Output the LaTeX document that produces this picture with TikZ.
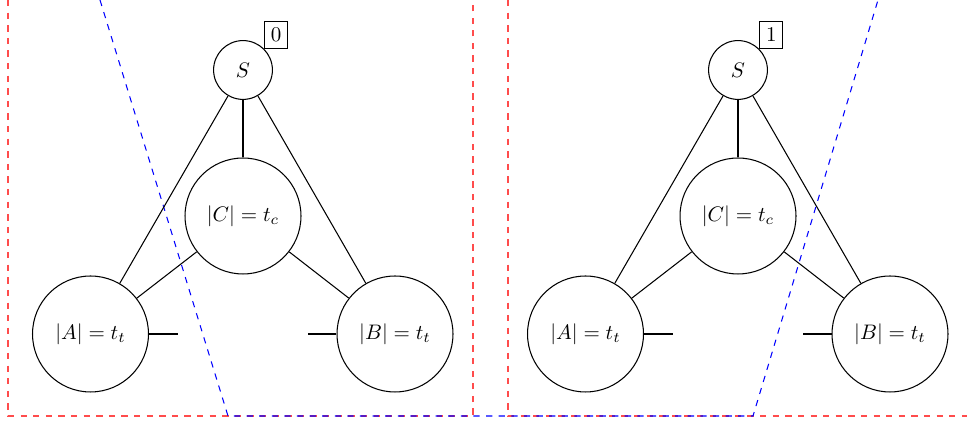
\documentclass[tikz,border=0pt]{standalone}
\begin{document}
\begin{tikzpicture}[x=0.476pt,y=-0.476pt,line width=0.5pt,
  big/.style={circle,draw,minimum size=55.2pt,inner sep=0pt},
  small/.style={circle,draw,minimum size=28pt,inner sep=0pt},
  tag/.style={draw,inner sep=3pt,anchor=south west},
  edge/.style={draw,black},
  redbox/.style={draw=red,draw opacity=0.7,dashed},
  blueline/.style={draw=blue,dashed}]
\useasboundingbox (0,0) rectangle (967,423);
% red dashed frames
\draw[redbox] (8,0) -- (8,416) -- (473,416) -- (473,0);
\draw[redbox] (508,0) -- (508,416) -- (967,416);
% blue dashed cut
\draw[blueline] (100,0) -- (228,416) -- (753,416) -- (878,0);
% panel 0
\begin{scope}
  \node[small] (S0) at (243,70) {$S$};
  \node[big] (C0) at (243,216) {$|C|=t_c$};
  \node[big] (A0) at (90.5,334) {$|A|=t_t$};
  \node[big] (B0) at (395,334) {$|B|=t_t$};
  \node[tag] (T0) at (S0.45) {0};
  \coordinate (a0) at (178,334);
  \coordinate (b0) at (308,334);
  \draw[edge] (S0) -- (A0);
  \draw[edge] (S0) -- (B0);
  \draw[edge] (S0) -- (C0);
  \draw[edge] (C0) -- (A0);
  \draw[edge] (C0) -- (B0);
  \draw[edge] (A0.east) -- (a0);
  \draw[edge] (B0.west) -- (b0);
\end{scope}
% panel 1
\begin{scope}[shift={(495,0)}]
  \node[small] (S1) at (243,70) {$S$};
  \node[big] (C1) at (243,216) {$|C|=t_c$};
  \node[big] (A1) at (90.5,334) {$|A|=t_t$};
  \node[big] (B1) at (395,334) {$|B|=t_t$};
  \node[tag] (T1) at (S1.45) {1};
  \coordinate (a1) at (178,334);
  \coordinate (b1) at (308,334);
  \draw[edge] (S1) -- (A1);
  \draw[edge] (S1) -- (B1);
  \draw[edge] (S1) -- (C1);
  \draw[edge] (C1) -- (A1);
  \draw[edge] (C1) -- (B1);
  \draw[edge] (A1.east) -- (a1);
  \draw[edge] (B1.west) -- (b1);
\end{scope}
\end{tikzpicture}
\end{document}
